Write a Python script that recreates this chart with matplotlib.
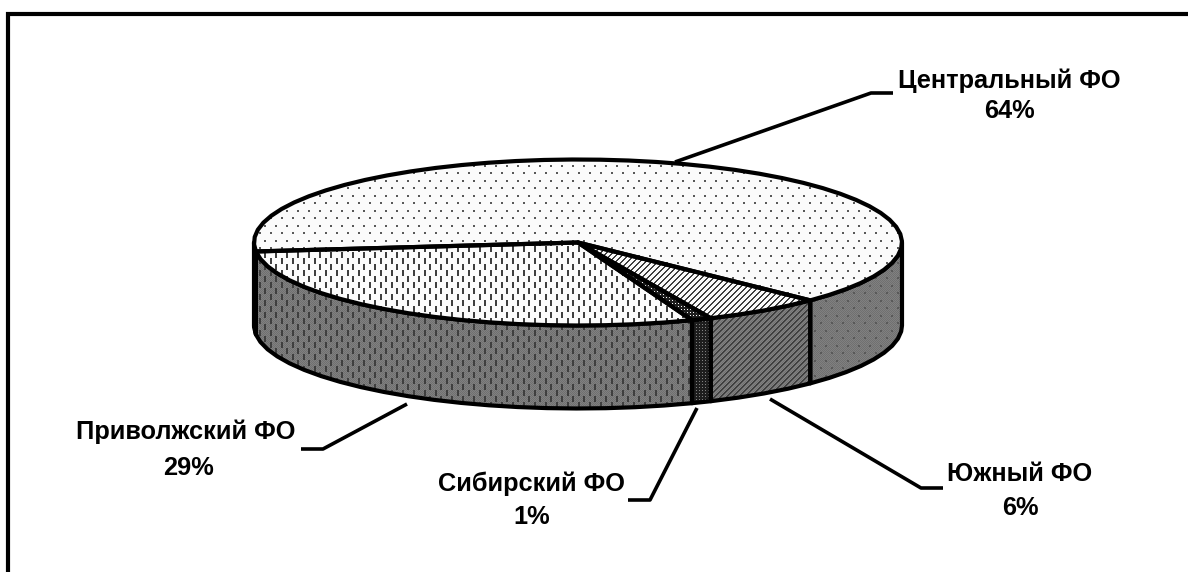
import numpy as np
import matplotlib
matplotlib.use('Agg')
import matplotlib.pyplot as plt
from matplotlib.patches import Polygon

regions = ['Центральный ФО', 'Южный ФО', 'Сибирский ФО', 'Приволжский ФО']
shares = [64, 6, 1, 29]
patterns = ['dots', 'diag', 'dense', 'dash']

# leader lines: pie edge -> elbow -> end
leaders = [[(675, 162), (871, 93), (893, 93)],
           [(770, 399), (921, 488), (943, 488)],
           [(697, 408), (650, 500), (628, 500)],
           [(407, 404), (323, 449), (301, 449)]]
name_pos = [(1009, 81), (1020, 474), (532, 484), (186, 432)]
pct_pos = [(1009, 111), (1020, 508), (532, 517), (189, 468)]

W, H = 1188, 572
CX, CY = 578, 242.5
RX, RY = 324, 83
DEPTH = 83
START = 186.2
LW = 3.0


def texture(kind, side):
    # pixel tile painted over the whole figure, clipped to each patch later
    yy, xx = np.mgrid[0:H, 0:W]
    img = np.zeros((H, W, 4))
    ink = 0.25
    if kind == 'dots':
        m = ((yy % 15 < 2) & (xx % 11 < 2)) | (((yy + 8) % 15 < 2) & ((xx + 5) % 11 < 2))
        ink = 0.35
    elif kind == 'dash':
        m = ((yy % 12 < 6) & (xx % 11 < 2)) | (((yy + 6) % 12 < 6) & ((xx + 5) % 11 < 2))
    elif kind == 'diag':
        m = (xx + yy) % 6 < 2
    else:
        m = ~((xx % 3 == 0) & (yy % 3 == 0))
        ink = 0.12
    img[m] = (ink, ink, ink, 1)
    if side and kind != 'dense':
        dith = ((xx + yy) % 2 == 0) & ~m
        img[dith] = (0.44, 0.44, 0.44, 1)
    return img


def rim(a):
    a = np.radians(a)
    return CX + RX * np.cos(a), CY - RY * np.sin(a)


def fill(ax, pts, kind, face, side=False):
    poly = Polygon(pts, closed=True, facecolor=face, edgecolor='none', zorder=2)
    ax.add_patch(poly)
    im = ax.imshow(texture(kind, side), extent=(0, W, H, 0), interpolation='nearest',
                   zorder=2, aspect='auto')
    im.set_clip_path(poly)


def outline(ax, pts, z):
    ax.add_patch(Polygon(pts, closed=True, fill=False, edgecolor='black', lw=LW,
                         zorder=z, joinstyle='round'))


fig = plt.figure(figsize=(W / 100, H / 100), dpi=100)
ax = fig.add_axes([0, 0, 1, 1])
ax.set_xlim(0, W)
ax.set_ylim(H, 0)
ax.axis('off')

# frame: only left and top are inside the picture
ax.plot([8, 8, W + 5], [H + 5, 13.5, 13.5], color='black', lw=3.0, solid_joinstyle='miter', zorder=1)

angles = START - np.cumsum([0] + shares) * 3.6

# side walls first, the top faces sit on them
for i, kind in enumerate(patterns):
    a0, a1 = angles[i], angles[i + 1]
    t = np.linspace(a0, a1, max(2, int((a0 - a1) / 5) + 1))
    t = np.r_[t, [180.0, 0.0] if a0 > 180 > a1 else []]
    t = np.sort(t)[::-1]
    low = t[np.sin(np.radians(t)) <= 1e-9]
    for run in np.split(low, np.where(np.diff(low) < -10)[0] + 1):
        if len(run) < 2:
            continue
        x, y = rim(run)
        wall = np.column_stack([np.r_[x, x[::-1]], np.r_[y, y[::-1] + DEPTH]])
        fill(ax, wall, kind, '#808080', side=True)
        outline(ax, wall, 3)

for i, kind in enumerate(patterns):
    a0, a1 = angles[i], angles[i + 1]
    t = np.linspace(a0, a1, max(2, int((a0 - a1) / 5) + 1))
    x, y = rim(t)
    top = np.column_stack([np.r_[CX, x], np.r_[CY, y]])
    fill(ax, top, kind, '#fbfbfb')
    ax.patches[-1].set_zorder(4)
    ax.images[-1].set_zorder(4)
    outline(ax, top, 5)

for pts in leaders:
    xs, ys = zip(*pts)
    ax.plot(xs, ys, color='black', lw=2.6, zorder=6, solid_capstyle='butt')

for name, share, np_, pp in zip(regions, shares, name_pos, pct_pos):
    ax.text(np_[0], np_[1], name, ha='center', va='center', family='Liberation Sans',
            fontweight='bold', fontsize=18.3, color='black', zorder=7)
    ax.text(pp[0], pp[1], '%d%%' % share, ha='center', va='center', family='Liberation Sans',
            fontweight='bold', fontsize=18.3, color='black', zorder=7)

fig.savefig('out.png', dpi=100, facecolor='white')
